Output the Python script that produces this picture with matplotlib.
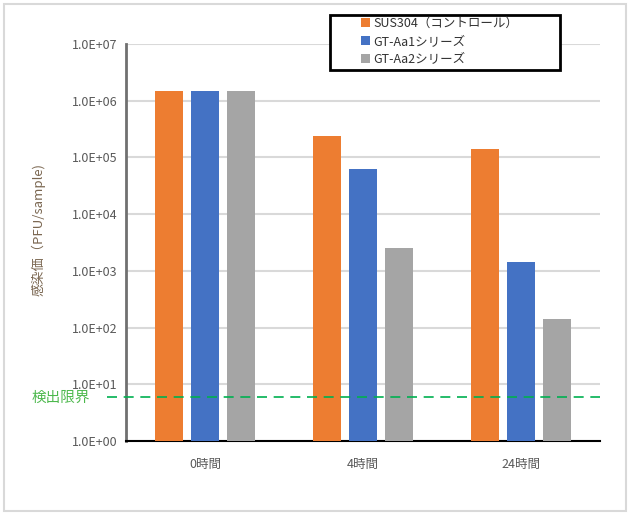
import numpy as np
import matplotlib.pyplot as plt
from matplotlib.patches import Rectangle

plt.rcParams['font.family'] = ['Noto Sans CJK JP', 'DejaVu Sans']

categories = ['0時間', '4時間', '24時間']
series_names = ['SUS304（コントロール）', 'GT-Aa1シリーズ', 'GT-Aa2シリーズ']
sus304 = [1.5e6, 2.4e5, 1.4e5]
gt_aa1 = [1.5e6, 6.3e4, 1.45e3]
gt_aa2 = [1.5e6, 2.5e3, 1.4e2]
detection_limit = 6.0
y_ticks = [1e0, 1e1, 1e2, 1e3, 1e4, 1e5, 1e6, 1e7]
y_tick_labels = ['1.0E+00', '1.0E+01', '1.0E+02', '1.0E+03',
                 '1.0E+04', '1.0E+05', '1.0E+06', '1.0E+07']

colors = ['#ed7d31', '#4472c4', '#a5a5a5']


def main():
    fig = plt.figure(figsize=(6.31, 5.17), dpi=100)
    ax = fig.add_axes([126 / 631, 1 - 441 / 517, 474 / 631, 397 / 517])

    x = np.arange(len(categories))
    width = 0.177
    step = 0.225
    for i, (vals, name) in enumerate(zip([sus304, gt_aa1, gt_aa2], series_names)):
        ax.bar(x + (i - 1) * step, vals, width, bottom=1, color=colors[i],
               label=name, zorder=3)

    ax.set_yscale('log')
    ax.set_ylim(1, 1e7)
    ax.set_xlim(-0.5, 2.5)
    ax.set_yticks(y_ticks)
    ax.set_yticklabels(y_tick_labels)
    ax.minorticks_off()
    ax.set_xticks(x)
    ax.set_xticklabels(categories)
    ax.tick_params(axis='both', length=0, labelsize=9, labelcolor='#595959')
    ax.tick_params(axis='x', pad=12)
    ax.tick_params(axis='y', pad=6)
    ax.grid(axis='y', color='#d9d9d9', linewidth=1.5, zorder=0)

    for s in ['top', 'right']:
        ax.spines[s].set_visible(False)
    ax.spines['left'].set_color('#707070')
    ax.spines['left'].set_linewidth(2)
    ax.spines['bottom'].set_color('black')
    ax.spines['bottom'].set_linewidth(1.5)

    # detection limit line and label
    ax.axhline(detection_limit, xmin=-0.04, xmax=1.0, color='#00b050',
               linestyle=(0, (6, 4)), linewidth=1.2, clip_on=False, zorder=4)
    fig.text(32 / 631, 1 - 398 / 517, '検出限界', color='#4cb84c', fontsize=10.5,
             va='center', ha='left')

    fig.text(38 / 631, 1 - 229 / 517, '感染価（PFU/sample)', color='#7a6650',
             fontsize=9.5, rotation=90, va='center', ha='center')

    # legend box drawn separately so it can be wider than the entries
    fig.patches.append(Rectangle((330 / 631, 1 - 70 / 517), 230 / 631, 55 / 517,
                                 transform=fig.transFigure, facecolor='white',
                                 edgecolor='black', linewidth=2, zorder=2))
    handles, labels = ax.get_legend_handles_labels()
    leg = fig.legend(handles, labels, loc='upper left',
                     bbox_to_anchor=(361 / 631, 1 - 17 / 517),
                     frameon=False, fontsize=9, handlelength=0.7,
                     handleheight=0.7, handletextpad=0.3, labelspacing=0.38,
                     borderpad=0, borderaxespad=0)
    leg.set_zorder(5)
    for t in leg.get_texts():
        t.set_color('#333333')

    fig.patches.append(Rectangle((4 / 631, 1 - 511 / 517), 622 / 631, 507 / 517,
                                 transform=fig.transFigure, fill=False,
                                 edgecolor='#d9d9d9', linewidth=1.5))

    fig.savefig('out.png', dpi=100)


if __name__ == '__main__':
    main()
